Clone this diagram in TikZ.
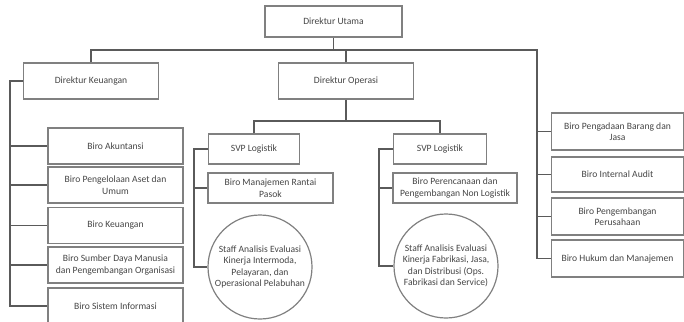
\documentclass[tikz,border=0pt]{standalone}
\usepackage{fontspec}
\setmainfont{Carlito}
\tikzset{every picture/.style={line width=0.75pt}}
\tikzset{
  orgbox/.style={draw={rgb, 255:red, 128; green, 128; blue, 128}, line width=0.9pt, fill=white, rectangle, align=center, inner sep=1pt,
    font=\fontsize{7.2}{8.6}\selectfont, text={rgb, 255:red, 70; green, 70; blue, 70}},
  orgcircle/.style={draw={rgb, 255:red, 128; green, 128; blue, 128}, line width=0.9pt, fill=white, circle, align=center, inner sep=0pt,
    minimum size=78pt, font=\fontsize{7.2}{8.6}\selectfont, text={rgb, 255:red, 70; green, 70; blue, 70}},
  orgline/.style={draw={rgb, 255:red, 90; green, 90; blue, 90}, line width=0.9pt}
}
\begin{document}
\begin{tikzpicture}[x=0.75pt,y=0.75pt,yscale=-1,xscale=1]
	\useasboundingbox (0,0) rectangle (684,321);
	\clip (0,0) rectangle (684,321);

	% Top level
	\node [orgbox, minimum width=102.75pt, minimum height=23.25pt] (utama) at (333.5,21.5) {Direktur Utama};
	\node [orgbox, minimum width=101.25pt, minimum height=27pt] (keu) at (91,81) {Direktur Keuangan};
	\node [orgbox, minimum width=101.25pt, minimum height=27pt] (ops) at (346,81) {Direktur Operasi};

	% Biro under Direktur Keuangan
	\node [orgbox, minimum width=101.25pt, minimum height=27pt] (akt) at (115.5,146) {Biro Akuntansi};
	\node [orgbox, minimum width=101.25pt, minimum height=27pt] (aset) at (115.5,185) {Biro Pengelolaan Aset dan\\Umum};
	\node [orgbox, minimum width=101.25pt, minimum height=27pt] (uang) at (115.5,225.5) {Biro Keuangan};
	\node [orgbox, minimum width=101.25pt, minimum height=27pt] (sdm) at (115.5,265) {Biro Sumber Daya Manusia\\dan Pengembangan Organisasi};
	\node [orgbox, minimum width=101.25pt, minimum height=27pt] (sisinf) at (115.5,306) {Biro Sistem Informasi};

	% SVP under Direktur Operasi
	\node [orgbox, minimum width=68.25pt, minimum height=22.5pt] (svpA) at (254,149) {SVP Logistik};
	\node [orgbox, minimum width=93.75pt, minimum height=22.5pt] (rantai) at (270.5,188) {Biro Manajemen Rantai\\Pasok};
	\node [orgcircle] (staffA) at (260,267) {Staff Analisis Evaluasi\\Kinerja Intermoda,\\Pelayaran, dan\\Operasional Pelabuhan};
	\node [orgbox, minimum width=69.75pt, minimum height=22.5pt] (svpB) at (440,149) {SVP Logistik};
	\node [orgbox, minimum width=93pt, minimum height=22.5pt] (nonlog) at (455,188) {Biro Perencanaan dan\\Pengembangan Non Logistik};
	\node [orgcircle] (staffB) at (446,266) {Staff Analisis Evaluasi\\Kinerja Fabrikasi, Jasa,\\dan Distribusi (Ops.\\Fabrikasi dan Service)};

	% Biro under Direktur Utama
	\node [orgbox, minimum width=99pt, minimum height=27.75pt] (adaan) at (617.5,131.5) {Biro Pengadaan Barang dan\\Jasa};
	\node [orgbox, minimum width=99pt, minimum height=26.25pt] (audit) at (617.5,174.5) {Biro Internal Audit};
	\node [orgbox, minimum width=99pt, minimum height=27.75pt] (kembang) at (617.5,216.5) {Biro Pengembangan\\Perusahaan};
	\node [orgbox, minimum width=99pt, minimum height=27.75pt] (hukum) at (617.5,258.5) {Biro Hukum dan Manajemen};

	% Bus coordinates
	\coordinate (busR) at (537,50);
	\coordinate (spineK) at (10,306);
	\coordinate (opsbus) at (346,121);
	\coordinate (spineA) at (194,267);
	\coordinate (spineB) at (379,266);

	% Connectors
	\draw [orgline] (utama.south) -- (utama.south |- busR);
	\draw [orgline] (keu.north) |- (busR) |- (hukum.west);
	\draw [orgline] (ops.north) -- (ops.north |- busR);
	\draw [orgline] (busR |- adaan.west) -- (adaan.west);
	\draw [orgline] (busR |- audit.west) -- (audit.west);
	\draw [orgline] (busR |- kembang.west) -- (kembang.west);

	\draw [orgline] (keu.west) -| (spineK) -- (sisinf.west);
	\draw [orgline] (spineK |- akt.west) -- (akt.west);
	\draw [orgline] (spineK |- aset.west) -- (aset.west);
	\draw [orgline] (spineK |- uang.west) -- (uang.west);
	\draw [orgline] (spineK |- sdm.west) -- (sdm.west);

	\draw [orgline] (ops.south) -- (opsbus);
	\draw [orgline] (svpA.north) |- (opsbus) -| (svpB.north);

	\draw [orgline] (svpA.west) -| (spineA) -- (staffA.west);
	\draw [orgline] (spineA |- rantai.west) -- (rantai.west);
	\draw [orgline] (svpB.west) -| (spineB) -- (staffB.west);
	\draw [orgline] (spineB |- nonlog.west) -- (nonlog.west);

\end{tikzpicture}
\end{document}
